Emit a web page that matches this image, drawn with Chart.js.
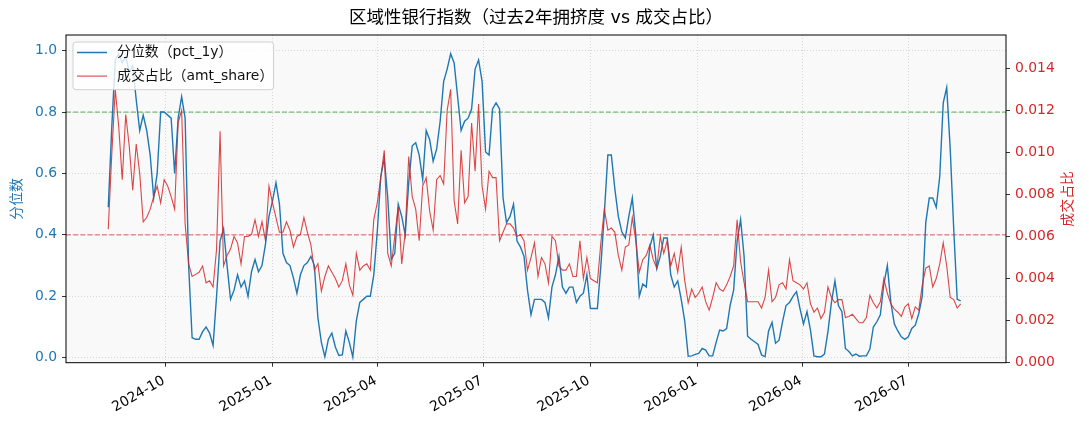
<!DOCTYPE html>
<html lang="zh">
<head>
<meta charset="UTF-8">
<title>区域性银行指数</title>
<script src="https://cdn.jsdelivr.net/npm/chart.js"></script>
<style>
  body { margin: 0; background: #fff; }
  #wrap { width: 1089px; height: 429px; }
</style>
</head>
<body>
<div id="wrap"><canvas id="c" width="1089" height="429"></canvas></div>
<script>
// daily-ish samples, one every stepDays calendar days from startDate
const startDate = '2024-08-13';
const stepDays = 3;

const pct1y = [
  0.49, 0.75, 0.97, 0.99, 0.96, 0.98, 0.93, 0.95, 0.84, 0.74,
  0.79, 0.74, 0.66, 0.52, 0.60, 0.80, 0.80, 0.79, 0.78, 0.60,
  0.78, 0.85, 0.78, 0.30, 0.065, 0.06, 0.06, 0.085, 0.10, 0.08,
  0.04, 0.20, 0.38, 0.42, 0.30, 0.19, 0.22, 0.27, 0.23, 0.25,
  0.20, 0.28, 0.32, 0.28, 0.30, 0.37, 0.46, 0.51, 0.57, 0.50,
  0.34, 0.31, 0.30, 0.26, 0.21, 0.27, 0.30, 0.31, 0.33, 0.30,
  0.13, 0.05, 0.003, 0.06, 0.08, 0.035, 0.007, 0.009, 0.087, 0.05,
  0.002, 0.12, 0.18, 0.19, 0.20, 0.20, 0.27, 0.41, 0.59, 0.65,
  0.52, 0.32, 0.34, 0.50, 0.46, 0.40, 0.57, 0.69, 0.70, 0.66,
  0.58, 0.74, 0.71, 0.64, 0.68, 0.77, 0.90, 0.94, 0.99, 0.96,
  0.85, 0.74, 0.77, 0.78, 0.81, 0.94, 0.97, 0.90, 0.67, 0.66,
  0.81, 0.83, 0.81, 0.52, 0.44, 0.46, 0.50, 0.38, 0.36, 0.33,
  0.22, 0.14, 0.19, 0.19, 0.19, 0.18, 0.13, 0.23, 0.27, 0.33,
  0.23, 0.21, 0.23, 0.23, 0.18, 0.20, 0.21, 0.27, 0.16, 0.16,
  0.16, 0.30, 0.47, 0.66, 0.66, 0.55, 0.46, 0.41, 0.39, 0.46,
  0.52, 0.40, 0.20, 0.24, 0.23, 0.36, 0.40, 0.29, 0.33, 0.39,
  0.39, 0.27, 0.23, 0.25, 0.19, 0.12, 0.005, 0.006, 0.011, 0.014,
  0.03, 0.025, 0.006, 0.006, 0.05, 0.09, 0.087, 0.095, 0.17, 0.22,
  0.38, 0.45, 0.33, 0.07, 0.06, 0.052, 0.043, 0.009, 0.003, 0.087,
  0.115, 0.047, 0.057, 0.117, 0.17, 0.18, 0.20, 0.215, 0.16, 0.11,
  0.15, 0.09, 0.006, 0.003, 0.003, 0.012, 0.085, 0.18, 0.25, 0.17,
  0.15, 0.03, 0.02, 0.006, 0.012, 0.005, 0.006, 0.006, 0.028, 0.10,
  0.117, 0.14, 0.24, 0.30, 0.18, 0.11, 0.087, 0.068, 0.06, 0.068,
  0.095, 0.106, 0.144, 0.20, 0.44, 0.52, 0.52, 0.49, 0.59, 0.83,
  0.88, 0.68, 0.42, 0.19, 0.185
];

const amtShare = [
  0.00635, 0.0099, 0.0130, 0.0112, 0.0087, 0.0118, 0.0103, 0.0082, 0.0104, 0.0090,
  0.0067, 0.0069, 0.0073, 0.0079, 0.0084, 0.0076, 0.0087, 0.0084, 0.0079, 0.0073,
  0.0114, 0.0120, 0.0066, 0.0047, 0.0041, 0.0042, 0.0043, 0.0046, 0.0038, 0.0039,
  0.0036, 0.0054, 0.0110, 0.0046, 0.0051, 0.0054, 0.0060, 0.0057, 0.0047, 0.0060,
  0.0060, 0.0061, 0.0068, 0.0060, 0.0067, 0.0058, 0.0084, 0.0076, 0.0069, 0.0062,
  0.0062, 0.0067, 0.0063, 0.0055, 0.0060, 0.0061, 0.0069, 0.0062, 0.0056, 0.0044,
  0.0047, 0.0034, 0.0041, 0.0046, 0.0043, 0.0040, 0.0036, 0.0039, 0.0047, 0.0037,
  0.0032, 0.0052, 0.0044, 0.0046, 0.0047, 0.0044, 0.0068, 0.0076, 0.0088, 0.0101,
  0.0052, 0.0046, 0.0060, 0.0074, 0.0047, 0.0062, 0.0098, 0.0079, 0.0073, 0.0058,
  0.0084, 0.0088, 0.0072, 0.0063, 0.0087, 0.0089, 0.0085, 0.0120, 0.0130, 0.0077,
  0.0066, 0.0101, 0.0076, 0.0079, 0.0114, 0.0091, 0.0123, 0.0084, 0.0073, 0.0091,
  0.0088, 0.0088, 0.0058, 0.0062, 0.0066, 0.0066, 0.0064, 0.0060, 0.0061, 0.0058,
  0.0044, 0.0050, 0.0057, 0.0041, 0.0050, 0.0047, 0.0038, 0.0060, 0.0058, 0.0046,
  0.0044, 0.0044, 0.0047, 0.0041, 0.0041, 0.0058, 0.0040, 0.0050, 0.0040, 0.0039,
  0.0038, 0.0057, 0.0073, 0.0063, 0.0064, 0.0062, 0.0051, 0.0044, 0.0055, 0.0056,
  0.0069, 0.0058, 0.0043, 0.0049, 0.0051, 0.0056, 0.0049, 0.0045, 0.0060, 0.0052,
  0.0058, 0.0046, 0.0052, 0.0043, 0.0055, 0.0039, 0.00285, 0.0035, 0.0031, 0.0033,
  0.0036, 0.0029, 0.0025, 0.0031, 0.0038, 0.0035, 0.0034, 0.0037, 0.0041, 0.0046,
  0.0068, 0.0048, 0.0038, 0.0029, 0.0029, 0.0029, 0.0029, 0.0026, 0.0031, 0.0044,
  0.0029, 0.0031, 0.0037, 0.0038, 0.0035, 0.0049, 0.0039, 0.0038, 0.0037, 0.0035,
  0.0038, 0.0028, 0.0024, 0.0026, 0.0021, 0.0024, 0.0036, 0.0031, 0.00285, 0.0030,
  0.0030, 0.00215, 0.0022, 0.0023, 0.0021, 0.0019, 0.0019, 0.00215, 0.0032, 0.00285,
  0.0026, 0.0029, 0.0040, 0.0033, 0.0028, 0.00255, 0.0024, 0.0022, 0.00265, 0.0028,
  0.0021, 0.00265, 0.0025, 0.0037, 0.0045, 0.0046, 0.0036, 0.0040, 0.0047, 0.0057,
  0.0046, 0.0031, 0.0030, 0.0026, 0.0028
];

const monthTicks = ['2024-10', '2025-01', '2025-04', '2025-07', '2025-10', '2026-01', '2026-04', '2026-07'];
const leftTicks = [0.0, 0.2, 0.4, 0.6, 0.8, 1.0];
const rightTicks = [0.000, 0.002, 0.004, 0.006, 0.008, 0.010, 0.012, 0.014];
const refHigh = 0.8;
const refLow = 0.4;

const titleText = '区域性银行指数（过去2年拥挤度 vs 成交占比）';
const pctLabel = '分位数（pct_1y）';
const amtLabel = '成交占比（amt_share）';
const leftTitle = '分位数';
const rightTitle = '成交占比';

const BLUE = '#1f77b4';
const RED = 'rgba(214,39,40,0.85)';
const FONT = "'DejaVu Sans', 'Noto Sans CJK SC', sans-serif";

function dayNum(s) {
  const p = s.split('-').map(Number);
  return Date.UTC(p[0], p[1] - 1, p[2] || 1) / 86400000;
}

const day0 = dayNum(startDate);
const xs = pct1y.map((_, i) => day0 + i * stepDays);
const tickDays = monthTicks.map(m => dayNum(m));
const xMin = dayNum('2024-10-01') - 85.3;
const xMax = dayNum('2024-10-01') + 721.9;

const decor = {
  id: 'decor',
  beforeDraw(chart) {
    const { ctx, chartArea: a } = chart;
    ctx.save();
    ctx.fillStyle = '#ffffff';
    ctx.fillRect(0, 0, chart.width, chart.height);
    ctx.fillStyle = '#f9f9f9';
    ctx.fillRect(a.left, a.top, a.right - a.left, a.bottom - a.top);
    ctx.restore();
  },
  afterDraw(chart) {
    const { ctx, chartArea: a } = chart;
    const xs_ = chart.scales.x;
    ctx.save();

    // frame
    ctx.strokeStyle = '#000';
    ctx.lineWidth = 1;
    ctx.strokeRect(a.left, a.top, a.right - a.left, a.bottom - a.top);

    // title
    ctx.fillStyle = '#000';
    ctx.font = '17.5px ' + FONT;
    ctx.textAlign = 'center';
    ctx.textBaseline = 'middle';
    ctx.fillText(titleText, (a.left + a.right) / 2, 18.5);

    // date labels, rotated like autofmt_xdate
    ctx.font = '13.9px ' + FONT;
    ctx.textAlign = 'right';
    ctx.textBaseline = 'top';
    monthTicks.forEach((m, i) => {
      const px = xs_.getPixelForValue(tickDays[i]);
      ctx.save();
      ctx.translate(px - 5, a.bottom + 11);
      ctx.rotate(-Math.PI / 6);
      ctx.fillText(m, 0, 0);
      ctx.restore();
    });

    // axis titles
    const midY = (a.top + a.bottom) / 2;
    ctx.font = '13.9px ' + FONT;
    ctx.textAlign = 'center';
    ctx.textBaseline = 'middle';
    ctx.save();
    ctx.translate(17.5, midY);
    ctx.rotate(-Math.PI / 2);
    ctx.fillStyle = BLUE;
    ctx.fillText(leftTitle, 0, 0);
    ctx.restore();
    ctx.save();
    ctx.translate(1068.5, midY);
    ctx.rotate(-Math.PI / 2);
    ctx.fillStyle = '#d62728';
    ctx.fillText(rightTitle, 0, 0);
    ctx.restore();

    // legend box
    const lx = a.left + 7, ly = a.top + 7, lw = 200.6, lh = 47.7;
    ctx.beginPath();
    ctx.roundRect(lx, ly, lw, lh, 3);
    ctx.fillStyle = 'rgba(255,255,255,0.8)';
    ctx.fill();
    ctx.strokeStyle = '#d0d0d0';
    ctx.lineWidth = 1;
    ctx.stroke();

    const rows = [[pctLabel, BLUE, 1.5], [amtLabel, RED, 1.1]];
    rows.forEach((r, i) => {
      const y = ly + 10.5 + i * 23.6;
      ctx.beginPath();
      ctx.moveTo(lx + 4, y);
      ctx.lineTo(lx + 34, y);
      ctx.strokeStyle = r[1];
      ctx.lineWidth = r[2];
      ctx.stroke();
      ctx.fillStyle = '#111';
      ctx.font = '13.9px ' + FONT;
      ctx.textAlign = 'left';
      ctx.textBaseline = 'middle';
      ctx.fillText(r[0], lx + 44, y);
    });

    ctx.restore();
  }
};

const dotted = { color: 'rgba(170,170,170,0.55)', lineWidth: 0.8, tickColor: '#000', tickWidth: 0.8, tickLength: 4 };

new Chart(document.getElementById('c'), {
  type: 'line',
  data: {
    datasets: [
      {
        label: amtLabel,
        data: amtShare.map((v, i) => ({ x: xs[i], y: v })),
        yAxisID: 'y2',
        borderColor: RED,
        borderWidth: 1.1,
        pointRadius: 0,
        order: 1
      },
      {
        label: pctLabel,
        data: pct1y.map((v, i) => ({ x: xs[i], y: v })),
        yAxisID: 'y',
        borderColor: BLUE,
        borderWidth: 1.4,
        pointRadius: 0,
        order: 2
      },
      {
        label: 'high',
        data: [{ x: xMin, y: refHigh }, { x: xMax, y: refHigh }],
        yAxisID: 'y',
        borderColor: 'rgba(44,160,44,0.8)',
        borderWidth: 1,
        borderDash: [5, 2.2],
        pointRadius: 0,
        order: 3
      },
      {
        label: 'low',
        data: [{ x: xMin, y: refLow }, { x: xMax, y: refLow }],
        yAxisID: 'y',
        borderColor: 'rgba(214,39,40,0.75)',
        borderWidth: 1,
        borderDash: [5, 2.2],
        pointRadius: 0,
        order: 4
      }
    ]
  },
  options: {
    responsive: false,
    animation: false,
    devicePixelRatio: 1,
    layout: { padding: { top: 35, left: 0, right: 0, bottom: 0 } },
    plugins: { legend: { display: false }, tooltip: { enabled: false }, title: { display: false } },
    scales: {
      x: {
        type: 'linear',
        min: xMin,
        max: xMax,
        afterBuildTicks: s => { s.ticks = tickDays.map(v => ({ value: v })); },
        afterFit: s => { s.height = 66.3; },
        ticks: { display: false },
        grid: dotted,
        border: { display: false, dash: [1, 2] }
      },
      y: {
        position: 'left',
        min: -0.0163,
        max: 1.051,
        afterBuildTicks: s => { s.ticks = leftTicks.map(v => ({ value: v })); },
        afterFit: s => { s.width = 66; },
        ticks: { color: BLUE, padding: 5, font: { family: FONT, size: 13.9 }, callback: v => v.toFixed(1) },
        grid: dotted,
        border: { display: false, dash: [1, 2] }
      },
      y2: {
        position: 'right',
        min: 0,
        max: 0.01558,
        afterBuildTicks: s => { s.ticks = rightTicks.map(v => ({ value: v })); },
        afterFit: s => { s.width = 83; },
        ticks: { color: '#d62728', padding: 5, font: { family: FONT, size: 13.9 }, callback: v => v.toFixed(3) },
        grid: { drawOnChartArea: false, tickColor: '#000', tickWidth: 0.8, tickLength: 4 },
        border: { display: false }
      }
    }
  },
  plugins: [decor]
});
</script>
</body>
</html>
